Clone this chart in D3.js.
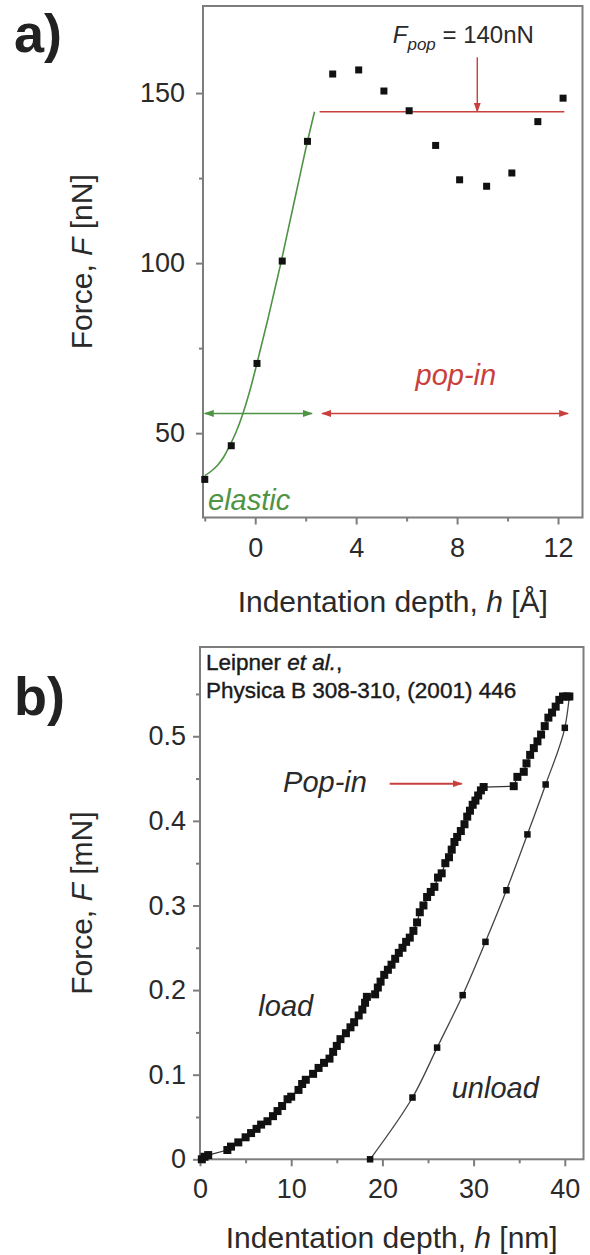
<!DOCTYPE html>
<html>
<head>
<meta charset="utf-8">
<script src="https://cdn.jsdelivr.net/npm/d3@7"></script>
<style>
  body { margin: 0; background: #fff; }
  svg { display: block; font-family: "Liberation Sans", Arial, sans-serif; }
  .frame { fill: none; stroke: #7d7d7d; stroke-width: 2; }
  .axis .domain { display: none; }
  .axis line { stroke: #7d7d7d; stroke-width: 2; }
  .axis text { fill: #2a2a2a; font-family: "Liberation Sans", Arial, sans-serif; }
  .title { fill: #2a2a2a; font-size: 30px; }
  .note { font-size: 29px; font-style: italic; }
</style>
</head>
<body>
<div id="root"></div>
<script>
// ---- panel a : AFM tip, depth in Angstrom, force in nN ----
const elasticDepth = [-2.0, -0.95, 0.07, 1.07, 2.07];
const elasticForce = [36.4, 46.3, 70.5, 100.6, 135.8];
const popinDepth = [3.07, 4.1, 5.1, 6.1, 7.15, 8.1, 9.17, 10.17, 11.2, 12.2];
const popinForce = [155.6, 156.8, 150.6, 144.8, 134.6, 124.5, 122.6, 126.5, 141.6, 148.5];
// green fit curve
const fitDepth = [-2.0, -1.75, -1.5, -1.25, -1.0, -0.75, -0.5, -0.25, 0, 0.25, 0.5, 0.75, 1.0, 1.25, 1.5, 1.75, 2.0, 2.35];
const fitForce = [37.5, 38.8, 40.5, 43, 46.5, 50.5, 55.5, 61.5, 68.5, 76, 83.5, 91.5, 99.5, 108, 116.5, 125, 133.5, 144.5];
const popLevel = 144.5;
const aMajorX = [0, 4, 8, 12];
const aMinorX = [-2, 2, 6, 10];
const aMajorY = [50, 100, 150];
const aMinorY = [75, 125];

// ---- panel b : nanoindentation, Leipner et al. ----
const loadDepth = [0.2, 0.5, 0.9, 3.0, 3.4, 4.2, 5.0, 5.6, 6.2, 6.7, 7.4, 8.0, 8.5, 9.0, 9.6, 10.0,
  10.8, 11.2, 11.6, 12.4, 13.0, 13.6, 14.2, 14.6, 15.0, 15.4, 16.0, 16.5, 16.9, 17.4, 17.8, 18.1,
  18.3, 19.2, 19.5, 19.8, 20.2, 20.6, 21.0, 21.4, 21.8, 22.2, 22.6, 23.0, 23.4, 23.8, 24.1, 24.5,
  24.9, 25.3, 25.7, 26.1, 26.5, 26.9, 27.3, 27.6, 27.9, 28.2, 28.6, 29.0, 29.3, 29.6, 29.9, 30.2,
  30.5, 30.8, 31.1, 34.4, 34.8, 35.5, 35.8, 36.2, 36.6, 37.0, 37.4, 37.8, 38.2, 38.6, 39.0, 39.4,
  39.8, 40.2, 40.5];
const loadForce = [0.0, 0.003, 0.005, 0.011, 0.015, 0.020, 0.026, 0.031, 0.036, 0.041, 0.045, 0.051,
  0.057, 0.063, 0.071, 0.074, 0.082, 0.089, 0.094, 0.101, 0.108, 0.114, 0.119, 0.127, 0.134, 0.142,
  0.149, 0.156, 0.162, 0.170, 0.177, 0.185, 0.192, 0.195, 0.203, 0.210, 0.218, 0.224, 0.230, 0.237,
  0.244, 0.250, 0.257, 0.262, 0.270, 0.280, 0.292, 0.300, 0.310, 0.316, 0.322, 0.333, 0.338, 0.350,
  0.357, 0.366, 0.375, 0.381, 0.388, 0.396, 0.405, 0.412, 0.419, 0.424, 0.430, 0.436, 0.440, 0.441,
  0.452, 0.458, 0.468, 0.478, 0.486, 0.494, 0.502, 0.512, 0.522, 0.528, 0.535, 0.543, 0.547, 0.547,
  0.547];
const unloadDepth = [40.5, 40.0, 37.9, 35.9, 33.6, 31.3, 28.8, 26.0, 23.3, 18.65];
const unloadForce = [0.547, 0.51, 0.443, 0.384, 0.318, 0.257, 0.194, 0.132, 0.073, 0.0];
const bMajorX = [0, 10, 20, 30, 40];
const bMinorX = [5, 15, 25, 35];
const bMajorY = [0, 0.1, 0.2, 0.3, 0.4, 0.5];
const bMinorY = [0.05, 0.15, 0.25, 0.35, 0.45, 0.55];

const green = "#4e9444";
const red = "#c8403c";

const svg = d3.select("#root").append("svg")
  .attr("width", 590)
  .attr("height", 1255);

const defs = svg.append("defs");
[["arrowGreen", green], ["arrowRed", red]].forEach(([id, c]) => {
  defs.append("marker")
    .attr("id", id)
    .attr("viewBox", "0 0 10 7")
    .attr("refX", 9)
    .attr("refY", 3.5)
    .attr("markerWidth", 10)
    .attr("markerHeight", 7)
    .attr("markerUnits", "userSpaceOnUse")
    .attr("orient", "auto-start-reverse")
    .append("path")
    .attr("d", "M0,0L10,3.5L0,7z")
    .attr("fill", c);
});

function drawAxes(x, y, t) {
  const [x0, x1] = x.range();
  const [y0, y1] = y.range();
  const g = svg.append("g");

  g.append("g").attr("class", "axis")
    .attr("transform", `translate(0,${y0})`)
    .call(d3.axisBottom(x).tickValues(t.minorX).tickSize(4).tickFormat(""));
  g.append("g").attr("class", "axis")
    .attr("transform", `translate(0,${y0})`)
    .call(d3.axisBottom(x).tickValues(t.majorX).tickSize(7).tickPadding(13).tickFormat(d3.format("d")))
    .selectAll("text").attr("font-size", 27);

  g.append("g").attr("class", "axis")
    .attr("transform", `translate(${x0},0)`)
    .call(d3.axisLeft(y).tickValues(t.minorY).tickSize(4).tickFormat(""));
  g.append("g").attr("class", "axis")
    .attr("transform", `translate(${x0},0)`)
    .call(d3.axisLeft(y).tickValues(t.majorY).tickSize(7).tickPadding(t.padY).tickFormat(t.fmtY))
    .selectAll("text").attr("font-size", 27);

  g.append("rect").attr("class", "frame")
    .attr("x", x0).attr("y", y1)
    .attr("width", x1 - x0).attr("height", y0 - y1);

  // axis titles
  const xt = g.append("text").attr("class", "title")
    .attr("x", (x0 + x1) / 2).attr("y", y0 + t.titleX)
    .attr("text-anchor", "middle");
  xt.append("tspan").text("Indentation depth, ");
  xt.append("tspan").attr("font-style", "italic").text("h");
  xt.append("tspan").text(" " + t.unitX);

  const yt = g.append("text").attr("class", "title")
    .attr("transform", `translate(92,${(y0 + y1) / 2}) rotate(-90)`)
    .attr("text-anchor", "middle");
  yt.append("tspan").text("Force, ");
  yt.append("tspan").attr("font-style", "italic").text("F");
  yt.append("tspan").text(" " + t.unitY);

  return g;
}

function squares(g, x, y, xs, ys, size) {
  g.selectAll(null)
    .data(xs.map((d, i) => [d, ys[i]]))
    .enter().append("rect")
    .attr("x", d => x(d[0]) - size / 2)
    .attr("y", d => y(d[1]) - size / 2)
    .attr("width", size)
    .attr("height", size)
    .attr("fill", "#111");
}

// ================= panel a =================
const xa = d3.scaleLinear().domain([-2.07, 12.97]).range([203, 582.5]);
const ya = d3.scaleLinear().domain([25.2, 175.6]).range([517.5, 6]);

const ga = drawAxes(xa, ya, {
  majorX: aMajorX, minorX: aMinorX, majorY: aMajorY, minorY: aMinorY,
  padY: 11, fmtY: d3.format("d"), titleX: 94, unitX: "[Å]", unitY: "[nN]"
});

const fitLine = d3.line()
  .x(d => xa(d[0])).y(d => ya(d[1]))
  .curve(d3.curveMonotoneX);

ga.append("path")
  .datum(fitDepth.map((d, i) => [d, fitForce[i]]))
  .attr("d", fitLine)
  .attr("fill", "none")
  .attr("stroke", green)
  .attr("stroke-width", 1.6);

ga.append("line")
  .attr("x1", xa(2.55)).attr("x2", xa(12.25))
  .attr("y1", ya(popLevel)).attr("y2", ya(popLevel))
  .attr("stroke", red).attr("stroke-width", 1.6);

squares(ga, xa, ya, elasticDepth, elasticForce, 7);
squares(ga, xa, ya, popinDepth, popinForce, 7);

// range arrows
ga.append("line")
  .attr("x1", xa(-2.0)).attr("x2", xa(2.25))
  .attr("y1", ya(55.8)).attr("y2", ya(55.8))
  .attr("stroke", green).attr("stroke-width", 1.6)
  .attr("marker-start", "url(#arrowGreen)")
  .attr("marker-end", "url(#arrowGreen)");
ga.append("line")
  .attr("x1", xa(2.65)).attr("x2", xa(12.4))
  .attr("y1", ya(55.8)).attr("y2", ya(55.8))
  .attr("stroke", red).attr("stroke-width", 1.6)
  .attr("marker-start", "url(#arrowRed)")
  .attr("marker-end", "url(#arrowRed)");

// F_pop arrow and label
ga.append("line")
  .attr("x1", xa(8.8)).attr("x2", xa(8.8))
  .attr("y1", ya(160.5)).attr("y2", ya(popLevel))
  .attr("stroke", red).attr("stroke-width", 1.4)
  .attr("marker-end", "url(#arrowRed)");

const fp = ga.append("text")
  .attr("x", xa(5.45)).attr("y", ya(164.7))
  .attr("font-size", 24).attr("fill", "#2a2a2a");
fp.append("tspan").attr("font-style", "italic").text("F");
fp.append("tspan").attr("font-style", "italic").attr("font-size", 17).attr("dy", 7).text("pop");
fp.append("tspan").attr("dy", -7).text(" = 140nN");

ga.append("text").attr("class", "note")
  .attr("x", xa(7.95)).attr("y", ya(64.3))
  .attr("text-anchor", "middle").attr("fill", red)
  .text("pop-in");
ga.append("text").attr("class", "note")
  .attr("x", xa(-1.87)).attr("y", ya(27.4))
  .attr("font-size", 31).attr("fill", green)
  .text("elastic");

svg.append("text")
  .attr("x", 14).attr("y", 52)
  .attr("font-size", 54).attr("font-weight", "bold").attr("fill", "#222")
  .text("a)");

// ================= panel b =================
const xb = d3.scaleLinear().domain([0, 42.05]).range([200, 583.5]);
const yb = d3.scaleLinear().domain([0, 0.6055]).range([1159.3, 647]);

const gb = drawAxes(xb, yb, {
  majorX: bMajorX, minorX: bMinorX, majorY: bMajorY, minorY: bMinorY,
  padY: 7, fmtY: d => d === 0 ? "0" : d3.format(".1f")(d), titleX: 89, unitX: "[nm]", unitY: "[mN]"
});

const lineB = d3.line().x(d => xb(d[0])).y(d => yb(d[1]));

gb.append("path")
  .datum(loadDepth.map((d, i) => [d, loadForce[i]]))
  .attr("d", lineB)
  .attr("fill", "none").attr("stroke", "#333").attr("stroke-width", 1.2);
gb.append("path")
  .datum(unloadDepth.map((d, i) => [d, unloadForce[i]]))
  .attr("d", lineB.curve(d3.curveMonotoneY))
  .attr("fill", "none").attr("stroke", "#444").attr("stroke-width", 1.3);

squares(gb, xb, yb, loadDepth, loadForce, 8);
squares(gb, xb, yb, unloadDepth, unloadForce, 6.5);

const ref = gb.append("text").attr("font-size", 22.5).attr("fill", "#1a1a1a")
  .attr("stroke", "#1a1a1a").attr("stroke-width", 0.4);
ref.append("tspan").attr("x", 206).attr("y", 670).text("Leipner ");
ref.append("tspan").attr("font-style", "italic").text("et al.");
ref.append("tspan").text(",");
ref.append("tspan").attr("x", 206).attr("y", 698).text("Physica B 308-310, (2001) 446");

gb.append("text").attr("class", "note")
  .attr("x", xb(18.3)).attr("y", yb(0.434))
  .attr("text-anchor", "end").attr("fill", "#2a2a2a")
  .text("Pop-in");
gb.append("line")
  .attr("x1", xb(20.8)).attr("x2", xb(28.7))
  .attr("y1", yb(0.444)).attr("y2", yb(0.444))
  .attr("stroke", red).attr("stroke-width", 2)
  .attr("marker-end", "url(#arrowRed)");

gb.append("text").attr("class", "note")
  .attr("x", xb(6.4)).attr("y", yb(0.169))
  .attr("fill", "#2a2a2a").text("load");
gb.append("text").attr("class", "note")
  .attr("x", xb(27.6)).attr("y", yb(0.072))
  .attr("fill", "#2a2a2a").text("unload");

svg.append("text")
  .attr("x", 14).attr("y", 715)
  .attr("font-size", 54).attr("font-weight", "bold").attr("fill", "#222")
  .text("b)");
</script>
</body>
</html>
